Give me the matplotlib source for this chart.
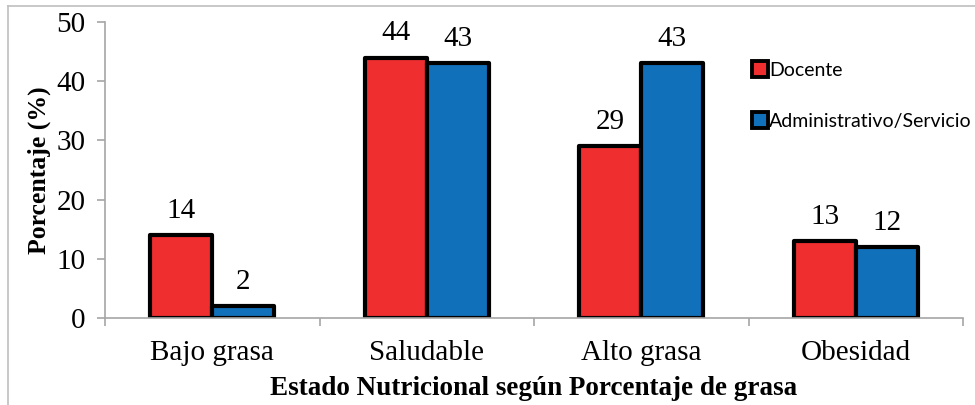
import matplotlib
matplotlib.use("Agg")
import matplotlib.pyplot as plt
from matplotlib.lines import Line2D
import numpy as np

categories = ["Bajo grasa", "Saludable", "Alto grasa", "Obesidad"]
docente = [14, 44, 29, 13]
administrativo = [2, 43, 43, 12]
series_names = ["Docente", "Administrativo/Servicio"]
yticks = [0, 10, 20, 30, 40, 50]

RED = "#EE2E2F"
BLUE = "#1170BA"
SERIF = ["Liberation Serif", "DejaVu Serif"]
SANS = ["Lato", "DejaVu Sans"]

fig = plt.figure(figsize=(9.75, 4.05), dpi=100)
ax = fig.add_axes([105/975, 1-318/405, (963-105)/975, (318-22)/405])

x = np.arange(len(categories))
w = 0.29
b1 = ax.bar(x - w/2, docente, w, color=RED, edgecolor="black", linewidth=3, joinstyle="round", zorder=3)
b2 = ax.bar(x + w/2, administrativo, w, color=BLUE, edgecolor="black", linewidth=3, joinstyle="round", zorder=3)

for bars, vals in ((b1, docente), (b2, administrativo)):
    for r, v in zip(bars, vals):
        ax.annotate(str(v), (r.get_x() + r.get_width()/2, v), xytext=(0, 8),
                    textcoords="offset points", ha="center", va="bottom",
                    fontsize=21, family=SERIF)

ax.set_xlim(-0.5, 3.5)
ax.set_ylim(0, 50)
ax.set_yticks(yticks)
ax.set_yticklabels([str(t) for t in yticks], fontsize=21, family=SERIF)
ax.set_xticks(x)
ax.set_xticklabels(categories, fontsize=21, family=SERIF)
ax.set_xticks(np.arange(-0.5, 4, 1), minor=True)
ax.tick_params(axis="x", which="major", length=0, pad=16)
ax.tick_params(axis="x", which="minor", length=6, color="#A6A6A6", width=1.2, direction="out")
ax.tick_params(axis="y", length=6, color="#A6A6A6", width=1.2, direction="out", pad=8)

for s in ("top", "right"):
    ax.spines[s].set_visible(False)
for s in ("left", "bottom"):
    ax.spines[s].set_color("#A6A6A6")
    ax.spines[s].set_linewidth(1.2)
ax.spines["bottom"].set_zorder(4)

ax.set_ylabel("Porcentaje (%)", fontsize=18.5, fontweight="bold", family=SERIF, labelpad=4)
ax.set_xlabel("Estado Nutricional según Porcentaje de grasa", fontsize=19.5, fontweight="bold",
              family=SERIF, labelpad=7)

handles = [Line2D([], [], marker="s", linestyle="none", markersize=11, markerfacecolor=c,
                  markeredgecolor="black", markeredgewidth=2.8) for c in (RED, BLUE)]
leg = fig.legend(handles, series_names, loc="upper left", bbox_to_anchor=(742/975, 1-54/405),
                 frameon=False, prop={"family": SANS, "size": 14}, handletextpad=0.0,
                 handlelength=1.0, labelspacing=1.75, borderaxespad=0)

# figure border (left and top)
fig.add_artist(Line2D([7.5/975, 7.5/975], [0, 1-6/405], transform=fig.transFigure, color="#BFBFBF", lw=1.2))
fig.add_artist(Line2D([7.5/975, 1], [1-6/405, 1-6/405], transform=fig.transFigure, color="#BFBFBF", lw=1.2))

fig.savefig("out.png", dpi=100)
